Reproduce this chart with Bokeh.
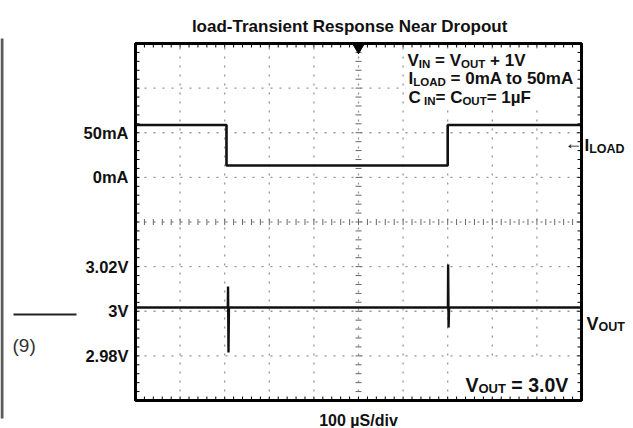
import numpy as np
from bokeh.plotting import figure
from bokeh.models import Range1d, Label, BoxAnnotation
from bokeh.core.properties import value
from bokeh.embed import file_html
from bokeh.resources import INLINE

# ---------------- data ----------------
i_time_us = [0, 204, 204, 700, 700, 1000]
i_load_ma = [58.7, 58.7, 13.3, 13.3, 58.7, 58.7]

v_time_us = [0, 207, 207.5, 208.5, 209.5, 700.5, 701, 702, 703, 1000]
v_out_v = [3.0017, 3.0017, 3.0111, 2.9815, 3.0017, 3.0017, 3.0210, 2.9927, 3.0017, 3.0017]

v_tick_values = [2.98, 3.00, 3.02]
v_tick_labels = ["2.98V", "3V", "3.02V"]
i_tick_values = [0, 50]
i_tick_labels = ["0mA", "50mA"]

title_text = "load-Transient Response  Near Dropout"
x_label_text = "100 µS/div"

T_RANGE = (0, 1000)      # 100 us/div x 10 div
V_RANGE = (2.96, 3.12)   # 20 mV/div x 8 div
I_RANGE = (-250, 150)    # 50 mA/div x 8 div

# ---------------- layout helpers (page px <-> data) ----------------
W, H = 633, 428
FX0, FX1, FY0, FY1 = 135, 581, 43, 400   # scope screen edges, px
PX_T = (T_RANGE[1] - T_RANGE[0]) / (FX1 - FX0)
PX_V = (V_RANGE[1] - V_RANGE[0]) / (FY1 - FY0)


def tx(px):
    return T_RANGE[0] + (px - FX0) * PX_T


def vy(py):
    return V_RANGE[0] + (FY1 - py) * PX_V


def iy(py):
    return I_RANGE[0] + (FY1 - py) / (FY1 - FY0) * (I_RANGE[1] - I_RANGE[0])


FONT = "Liberation Sans"
INK = "#111111"
CW = {' ': 278, '(': 333, ')': 333, '+': 584, '-': 333, '.': 278, '/': 278, '=': 584,
      'A': 722, 'C': 722, 'D': 722, 'F': 611, 'I': 278, 'L': 611, 'N': 722, 'O': 778,
      'S': 667, 'T': 611, 'U': 722, 'V': 667, 'R': 722, 'a': 556, 'd': 611, 'e': 556,
      'i': 278, 'l': 278, 'm': 889, 'n': 611, 'o': 611, 'p': 611, 'r': 389, 's': 556,
      't': 333, 'u': 611, 'v': 556, 'µ': 611}
for _d in "0123456789":
    CW[_d] = 556


def tw(s, size):
    return sum(CW.get(ch, 600) for ch in s) * size / 1000.0


p = figure(width=W, height=H, title=None,
           x_range=Range1d(tx(0), tx(W)), y_range=Range1d(vy(H), vy(0)),
           output_backend="svg", toolbar_location=None,
           x_axis_type=None, y_axis_type=None,
           min_border_left=0, min_border_right=0, min_border_top=0, min_border_bottom=0)
p.extra_y_ranges = {"cur": Range1d(iy(H), iy(0))}
p.outline_line_color = None
p.background_fill_color = "white"
p.border_fill_color = "white"
p.xgrid.visible = False
p.ygrid.visible = False

# ---------------- graticule ----------------
GRID_COLOR = "#969696"
div_t = [float(v) for v in np.arange(T_RANGE[0] + 100, T_RANGE[1], 100)]
div_v = [round(float(v), 4) for v in np.arange(V_RANGE[0] + 0.02, V_RANGE[1] - 1e-6, 0.02)]
p.segment(x0=div_t, y0=[V_RANGE[0]] * len(div_t), x1=div_t, y1=[V_RANGE[1]] * len(div_t),
          line_color=GRID_COLOR, line_dash="2 7", line_width=1.3)
p.segment(x0=[T_RANGE[0]] * len(div_v), y0=div_v, x1=[T_RANGE[1]] * len(div_v), y1=div_v,
          line_color=GRID_COLOR, line_dash="2 7", line_width=1.3)

minor_t = [float(v) for v in np.arange(T_RANGE[0], T_RANGE[1] + 0.1, 20)]
minor_v = [round(float(v), 4) for v in np.arange(V_RANGE[0], V_RANGE[1] + 1e-6, 0.004)]
t_mid = (T_RANGE[0] + T_RANGE[1]) / 2
v_mid = (V_RANGE[0] + V_RANGE[1]) / 2
p.scatter(minor_t, [v_mid] * len(minor_t), marker="dash", size=6, angle=np.pi / 2,
          line_color="#666666", line_width=1)
p.scatter([t_mid] * len(minor_v), minor_v, marker="dash", size=6, angle=0,
          line_color="#666666", line_width=1)

# border ticks pointing inward (4 px)
tl_t, tl_v = 4 * PX_T, 4 * PX_V
n_t, n_v = len(minor_t), len(minor_v)
p.segment(x0=minor_t, y0=[V_RANGE[0]] * n_t, x1=minor_t, y1=[V_RANGE[0] + tl_v] * n_t,
          line_color="black", line_width=1)
p.segment(x0=minor_t, y0=[V_RANGE[1]] * n_t, x1=minor_t, y1=[V_RANGE[1] - tl_v] * n_t,
          line_color="black", line_width=1)
p.segment(x0=[T_RANGE[0]] * n_v, y0=minor_v, x1=[T_RANGE[0] + tl_t] * n_v, y1=minor_v,
          line_color="black", line_width=1)
p.segment(x0=[T_RANGE[1]] * n_v, y0=minor_v, x1=[T_RANGE[1] - tl_t] * n_v, y1=minor_v,
          line_color="black", line_width=1)

# ---------------- traces ----------------
p.line(i_time_us, i_load_ma, y_range_name="cur", line_color=INK, line_width=2.6)
p.line(v_time_us, v_out_v, line_color=INK, line_width=2.4)

# scope screen border and trigger marker
p.quad(left=[T_RANGE[0]], right=[T_RANGE[1]], bottom=[V_RANGE[0]], top=[V_RANGE[1]],
       fill_color=None, line_color="black", line_width=3)
p.scatter([t_mid], [V_RANGE[1] - 4 * PX_V], marker="inverted_triangle", size=11,
          fill_color="black", line_color="black")

# ---------------- tick labels ----------------
lab_kw = dict(text_font=value(FONT), text_font_style="bold", text_font_size="16.5px",
              text_align="right", text_baseline="middle", text_color=INK)
p.text(x=[tx(128)] * len(v_tick_values), y=v_tick_values, text=v_tick_labels, **lab_kw)
p.text(x=[tx(128)] * len(i_tick_values), y=i_tick_values, text=i_tick_labels,
       y_range_name="cur", **lab_kw)

# ---------------- annotation boxes ----------------
p.add_layout(BoxAnnotation(left=tx(405), right=tx(575), top=vy(48), bottom=vy(104),
                           fill_color="white", fill_alpha=1, line_color=None))
p.add_layout(BoxAnnotation(left=tx(457), right=tx(575), top=vy(360), bottom=vy(395),
                           fill_color="white", fill_alpha=1, line_color=None))


def rich(px, py, parts, size, sub_size, sub_drop, color=INK):
    off = 0.0
    for text, sub in parts:
        fs = sub_size if sub else size
        lead = len(text) - len(text.lstrip(" "))
        p.add_layout(Label(x=tx(px), y=vy(py), x_offset=off + tw(" " * lead, fs),
                           y_offset=-sub_drop if sub else 0,
                           text=text.strip(" "), text_font=FONT, text_font_style="bold",
                           text_font_size=f"{fs}px", text_baseline="alphabetic",
                           text_align="left", text_color=color))
        off += tw(text, fs)


rich(407, 60, [("V", 0), ("IN", 1), (" = ", 0), ("V", 0), ("OUT", 1), (" + 1V", 0)], 17, 11.5, 3)
rich(408, 78, [("I", 0), ("LOAD", 1), (" = 0mA to 50mA", 0)], 17, 11.5, 3)
rich(408, 97, [("C", 0), (" IN", 1), ("= ", 0), ("C", 0), ("OUT", 1), ("= 1µF", 0)], 17, 11.5, 3)
rich(465, 384, [("V", 0), ("OUT", 1), (" = 3.0V", 0)], 19.5, 13, 3.5)

# right-hand trace names
p.add_layout(Label(x=tx(573), y=vy(142), text="←", text_font=FONT, text_font_style="bold",
                   text_font_size="18px", text_align="center", text_baseline="middle",
                   text_color=INK))
rich(584, 145, [("I", 0), ("LOAD", 1)], 17, 12.5, 3)
rich(586, 323, [("V", 0), ("OUT", 1)], 18, 12.5, 3)

# title and time-base label
p.add_layout(Label(x=tx(351.5), y=vy(26), text=title_text, text_font=FONT,
                   text_font_style="bold", text_font_size="17px", text_align="center",
                   text_baseline="alphabetic", text_color=INK))
p.add_layout(Label(x=tx(358), y=vy(420), text=x_label_text, text_font=FONT,
                   text_font_style="bold", text_font_size="16px", text_align="center",
                   text_baseline="alphabetic", text_color=INK))

# page fragments at the left edge
p.add_layout(BoxAnnotation(left=tx(0), right=tx(3), top=vy(38), bottom=vy(418),
                           fill_color="#5a5a5a", fill_alpha=1, line_color=None))
p.add_layout(BoxAnnotation(left=tx(13), right=tx(76), top=vy(313), bottom=vy(315),
                           fill_color="#222222", fill_alpha=1, line_color=None))
p.add_layout(Label(x=tx(12), y=vy(345), text="(9)", text_font=FONT,
                   text_font_size="19px", text_align="left", text_baseline="alphabetic",
                   text_color="#333333"))

open("out.html", "w").write(file_html(p, INLINE))
